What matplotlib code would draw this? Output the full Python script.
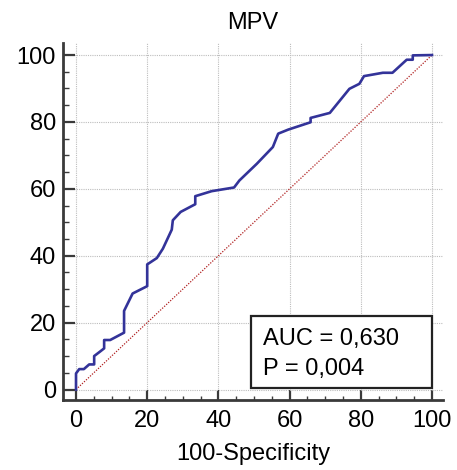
import matplotlib
matplotlib.use("Agg")
import matplotlib.pyplot as plt
from matplotlib.patches import Rectangle
from matplotlib.ticker import MultipleLocator

# ROC curve (100-Specificity vs Sensitivity)
fpr = [0, 0, 0.9, 2.2, 3.7, 5.1, 5.1, 6.7, 7.9, 7.9, 9.6, 13.5, 13.5, 15.9,
       20.0, 20.0, 22.7, 24.4, 26.9, 27.2, 29.4, 33.5, 33.5, 38.1, 44.4,
       45.9, 50.8, 55.3, 56.8, 59.6, 65.9, 65.9, 71.3, 76.8, 79.6, 80.9,
       86.2, 88.9, 92.9, 94.6, 94.6, 100]
tpr = [0, 4.8, 6.1, 6.1, 7.5, 7.5, 10.0, 11.3, 12.3, 14.8, 14.8, 17.0, 23.5,
       28.7, 30.9, 37.4, 39.3, 42.1, 47.8, 50.6, 53.1, 55.4, 57.8, 59.3,
       60.4, 62.5, 67.5, 72.5, 76.5, 77.7, 79.9, 81.2, 82.7, 89.9, 91.4,
       93.7, 94.7, 94.7, 98.6, 98.6, 99.9, 100]
diag = [0, 100]
title = "MPV"
xlabel = "100-Specificity"
auc_text = "AUC = 0,630"
p_text = "P = 0,004"

plt.rcParams["font.family"] = ["Liberation Sans", "DejaVu Sans"]

fig = plt.figure(figsize=(4.57, 4.70), dpi=100)
ax = fig.add_axes([0.1379, 0.1489, 0.8315, 0.7596])

ax.plot(diag, diag, color="#b02020", lw=0.9, ls=(0, (1, 1.2)), zorder=2)
ax.plot(fpr, tpr, color="#333399", lw=1.9, zorder=3)

ax.set_xlim(-3.65, 103.1)
ax.set_ylim(-3.14, 103.6)

ax.xaxis.set_major_locator(MultipleLocator(20))
ax.xaxis.set_minor_locator(MultipleLocator(5))
ax.yaxis.set_major_locator(MultipleLocator(20))
ax.yaxis.set_minor_locator(MultipleLocator(5))

ax.grid(True, which="major", color="#bdbdbd", ls=(0, (1, 1)), lw=0.8, zorder=0)

for side in ["top", "right"]:
    ax.spines[side].set_visible(False)
for side in ["left", "bottom"]:
    ax.spines[side].set_linewidth(2.0)
    ax.spines[side].set_color("#3a3a3a")

ax.tick_params(axis="y", which="major", direction="in", length=8.6, width=1.6,
               color="#3a3a3a", labelsize=17, pad=5)
ax.tick_params(axis="y", which="minor", direction="in", length=4.5, width=1.0,
               color="#3a3a3a")
ax.tick_params(axis="x", which="major", direction="in", length=7.5, width=1.6,
               color="#3a3a3a", labelsize=17, pad=7)
ax.tick_params(axis="x", which="minor", direction="in", length=3.2, width=1.0,
               color="#3a3a3a")

ax.set_title(title, fontsize=17, pad=10)
ax.set_xlabel(xlabel, fontsize=17, labelpad=8)

# AUC / P box
ax.add_patch(Rectangle((49.2, 0.4), 50.9, 21.6, facecolor="white",
                       edgecolor="#222222", lw=1.6, zorder=4))
ax.text(52.4, 13.3, auc_text, fontsize=17, va="baseline", ha="left", zorder=5)
ax.text(52.4, 4.3, p_text, fontsize=17, va="baseline", ha="left", zorder=5)

fig.savefig("out.png", dpi=100)
